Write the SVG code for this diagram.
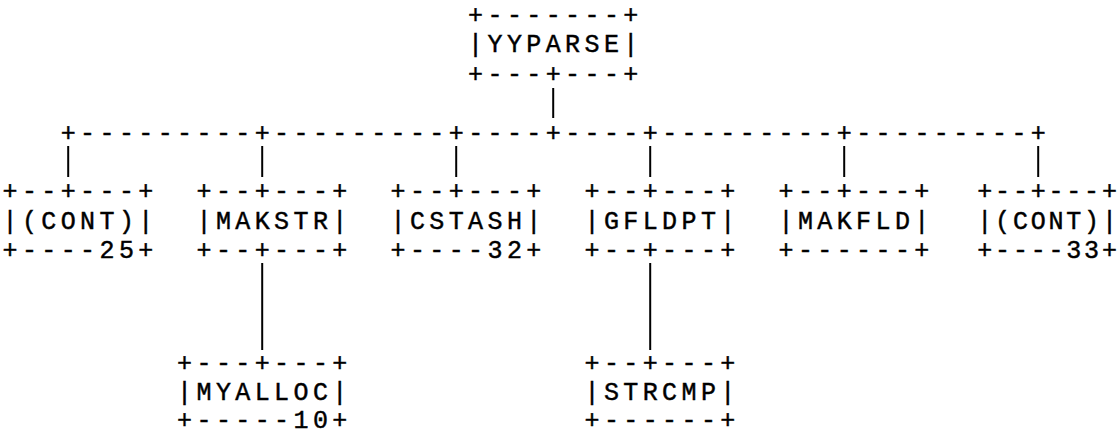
<svg xmlns="http://www.w3.org/2000/svg" width="1120" height="436" viewBox="0 0 1120 436">
<style>
.t{font-family:"Liberation Mono","DejaVu Sans Mono",monospace;font-size:25px;letter-spacing:4.4px;fill:#000;stroke:#000;stroke-width:0.45px;white-space:pre}
.e{letter-spacing:2.8px}
.v{stroke:#000;stroke-width:2;fill:none}
</style>
<rect width="1120" height="436" fill="#fff"/>
<g id="connectors">
<text class="t" x="60.7" y="140.8">+---------+---------+----+----+---------+---------+</text>
<line class="v" x1="553.2" y1="88" x2="553.2" y2="118"/>
<line class="v" x1="68.2" y1="146" x2="68.2" y2="177"/>
<line class="v" x1="262.2" y1="146" x2="262.2" y2="177"/>
<line class="v" x1="456.2" y1="146" x2="456.2" y2="177"/>
<line class="v" x1="650.2" y1="146" x2="650.2" y2="177"/>
<line class="v" x1="844.2" y1="146" x2="844.2" y2="177"/>
<line class="v" x1="1038.2" y1="146" x2="1038.2" y2="177"/>
<line class="v" x1="262.2" y1="263" x2="262.2" y2="350"/>
<line class="v" x1="650.2" y1="263" x2="650.2" y2="350"/>
</g>
<g id="yyparse">
<text class="t" x="468.1" y="23">+-------+</text>
<text class="t" x="468.1" y="52">|YYPARSE|</text>
<text class="t" x="468.1" y="81.5">+---+---+</text>
</g>
<g id="cont25">
<text class="t" x="2.5" y="199.4">+--+---+</text>
<text class="t" x="2.5" y="228.7">|(CONT)|</text>
<text class="t" x="2.5" y="258">+----25+</text>
</g>
<g id="makstr">
<text class="t" x="196.5" y="199.4">+--+---+</text>
<text class="t" x="196.5" y="228.7">|MAKSTR|</text>
<text class="t" x="196.5" y="258">+--+---+</text>
</g>
<g id="cstash">
<text class="t" x="390.5" y="199.4">+--+---+</text>
<text class="t" x="390.5" y="228.7">|CSTASH|</text>
<text class="t" x="390.5" y="258">+----32+</text>
</g>
<g id="gfldpt">
<text class="t" x="584.5" y="199.4">+--+---+</text>
<text class="t" x="584.5" y="228.7">|GFLDPT|</text>
<text class="t" x="584.5" y="258">+--+---+</text>
</g>
<g id="makfld">
<text class="t" x="778.5" y="199.4">+--+---+</text>
<text class="t" x="778.5" y="228.7">|MAKFLD|</text>
<text class="t" x="778.5" y="258">+------+</text>
</g>
<g id="cont33">
<text class="t e" x="977.3" y="199.4">+--+---+</text>
<text class="t e" x="977.3" y="228.7">|(CONT)|</text>
<text class="t e" x="977.3" y="258">+----33+</text>
</g>
<g id="myalloc">
<text class="t" x="177.1" y="371.2">+---+---+</text>
<text class="t" x="177.1" y="399.6">|MYALLOC|</text>
<text class="t" x="177.1" y="428">+-----10+</text>
</g>
<g id="strcmp">
<text class="t" x="584.5" y="371.2">+--+---+</text>
<text class="t" x="584.5" y="399.6">|STRCMP|</text>
<text class="t" x="584.5" y="428">+------+</text>
</g>
</svg>
